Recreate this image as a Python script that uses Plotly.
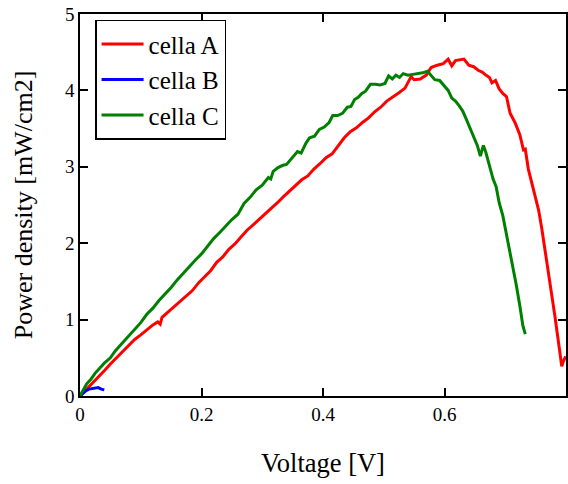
import plotly.graph_objects as go

# Power density vs. voltage for three cells
volt_a = [0, 0.01, 0.02, 0.03, 0.04, 0.05, 0.06, 0.07, 0.08, 0.09, 0.10, 0.11, 0.12, 0.128, 0.132,
          0.135, 0.145, 0.155, 0.165, 0.175, 0.185, 0.195, 0.205, 0.215, 0.225, 0.235, 0.245,
          0.255, 0.265, 0.275, 0.285, 0.295, 0.305, 0.315, 0.325, 0.335, 0.345, 0.355, 0.365,
          0.375, 0.385, 0.395, 0.405, 0.415, 0.425, 0.435, 0.445, 0.455, 0.465, 0.475, 0.485,
          0.495, 0.505, 0.515, 0.525, 0.535, 0.545, 0.55, 0.56, 0.57, 0.578, 0.588, 0.598, 0.606,
          0.612, 0.618, 0.626, 0.632, 0.64, 0.648, 0.656, 0.662, 0.668, 0.674, 0.678, 0.684,
          0.69, 0.696, 0.702, 0.708, 0.716, 0.724, 0.73, 0.733, 0.738, 0.744, 0.75, 0.755,
          0.76, 0.765, 0.77, 0.776, 0.782, 0.787, 0.791, 0.793, 0.796, 0.7995]
power_a = [0, 0.08, 0.16, 0.25, 0.33, 0.42, 0.50, 0.58, 0.66, 0.74, 0.80, 0.87, 0.93, 0.97, 0.94,
           1.03, 1.10, 1.18, 1.25, 1.31, 1.38, 1.48, 1.56, 1.64, 1.75, 1.82, 1.92,
           1.99, 2.08, 2.17, 2.24, 2.31, 2.38, 2.45, 2.53, 2.61, 2.68, 2.76, 2.83,
           2.88, 2.97, 3.04, 3.12, 3.17, 3.28, 3.38, 3.46, 3.51, 3.58, 3.64, 3.72,
           3.78, 3.86, 3.91, 3.97, 4.03, 4.18, 4.14, 4.15, 4.20, 4.30, 4.33, 4.35, 4.41,
           4.32, 4.39, 4.40, 4.41, 4.33, 4.31, 4.26, 4.24, 4.20, 4.17, 4.10, 4.13,
           4.02, 3.96, 3.92, 3.70, 3.58, 3.42, 3.22, 3.23, 2.97, 2.78, 2.60, 2.43,
           2.20, 1.92, 1.62, 1.35, 1.03, 0.75, 0.50, 0.39, 0.46, 0.52]

volt_b = [0, 0.005, 0.01, 0.015, 0.02, 0.025, 0.03, 0.035, 0.04]
power_b = [0, 0.04, 0.07, 0.09, 0.10, 0.11, 0.11, 0.09, 0.08]

volt_c = [0, 0.005, 0.011, 0.018, 0.025, 0.032, 0.04, 0.05, 0.058, 0.066, 0.074, 0.082, 0.09,
          0.1, 0.11, 0.12, 0.13, 0.14, 0.15, 0.16, 0.17, 0.18, 0.19, 0.2, 0.21, 0.22, 0.23,
          0.24, 0.25, 0.26, 0.27, 0.28, 0.29, 0.3, 0.31, 0.314, 0.318, 0.326, 0.334, 0.34,
          0.35, 0.358, 0.364, 0.372, 0.378, 0.386, 0.394, 0.402, 0.41, 0.416, 0.424, 0.432,
          0.44, 0.446, 0.452, 0.458, 0.464, 0.47, 0.478, 0.486, 0.494, 0.502, 0.508, 0.514,
          0.52, 0.526, 0.532, 0.54, 0.548, 0.556, 0.564, 0.572, 0.578, 0.584, 0.592, 0.6,
          0.606, 0.612, 0.618, 0.624, 0.63, 0.636, 0.642, 0.648, 0.654, 0.659, 0.664, 0.668,
          0.674, 0.68, 0.685, 0.69, 0.696, 0.702, 0.706, 0.712, 0.718, 0.724, 0.729, 0.733]
power_c = [0, 0.08, 0.16, 0.22, 0.30, 0.36, 0.43, 0.50, 0.59, 0.66, 0.73, 0.79, 0.87,
           0.96, 1.07, 1.15, 1.25, 1.33, 1.42, 1.52, 1.61, 1.69, 1.78, 1.86, 1.96, 2.06, 2.14,
           2.23, 2.31, 2.38, 2.52, 2.60, 2.70, 2.76, 2.86, 2.84, 2.94, 2.99, 3.02, 3.03,
           3.13, 3.20, 3.18, 3.31, 3.38, 3.40, 3.49, 3.52, 3.58, 3.67, 3.67, 3.70,
           3.78, 3.79, 3.88, 3.91, 3.96, 3.99, 4.08, 4.08, 4.07, 4.09, 4.19, 4.15,
           4.20, 4.17, 4.22, 4.20, 4.21, 4.22, 4.23, 4.25, 4.20, 4.14, 4.13, 4.05,
           4.00, 3.90, 3.86, 3.80, 3.73, 3.62, 3.50, 3.40, 3.28, 3.14, 3.28, 3.19,
           3.00, 2.84, 2.74, 2.53, 2.36, 2.12, 1.98, 1.74, 1.46, 1.18, 0.92, 0.81]

x_ticks = [0, 0.2, 0.4, 0.6]
y_ticks = [0, 1, 2, 3, 4, 5]

SERIF = "Liberation Serif, Times New Roman, serif"

fig = go.Figure()
fig.add_trace(go.Scatter(x=volt_a, y=power_a, mode="lines", name="cella A",
                         line=dict(color="#ff0000", width=3)))
fig.add_trace(go.Scatter(x=volt_b, y=power_b, mode="lines", name="cella B",
                         line=dict(color="#0000ff", width=3)))
fig.add_trace(go.Scatter(x=volt_c, y=power_c, mode="lines", name="cella C",
                         line=dict(color="#008000", width=3)))

axis_common = dict(
    showgrid=False, zeroline=False, showline=True, linecolor="black", linewidth=1.5,
    mirror="ticks", ticks="inside", ticklen=8, tickwidth=1.5, tickcolor="black",
    tickfont=dict(family=SERIF, size=19, color="black"),
)

fig.update_layout(
    width=568, height=484,
    margin=dict(l=80, r=0, t=14, b=88),
    paper_bgcolor="white", plot_bgcolor="white",
    font=dict(family=SERIF, color="black"),
    xaxis=dict(range=[0, 0.8], tickvals=x_ticks, ticktext=[str(v) for v in x_ticks],
               title=dict(text="Voltage [V]", font=dict(family=SERIF, size=26.5), standoff=30),
               **axis_common),
    yaxis=dict(range=[0, 5], tickvals=y_ticks,
               title=dict(text="Power density [mW/cm2]", font=dict(family=SERIF, size=26), standoff=25),
               **axis_common),
    legend=dict(x=0.031, y=0.985, xanchor="left", yanchor="top",
                bgcolor="white", bordercolor="black", borderwidth=1.5,
                font=dict(family=SERIF, size=25, color="black"),
                itemwidth=42, tracegroupgap=0),
    showlegend=True,
)

fig.write_html("out.html")
